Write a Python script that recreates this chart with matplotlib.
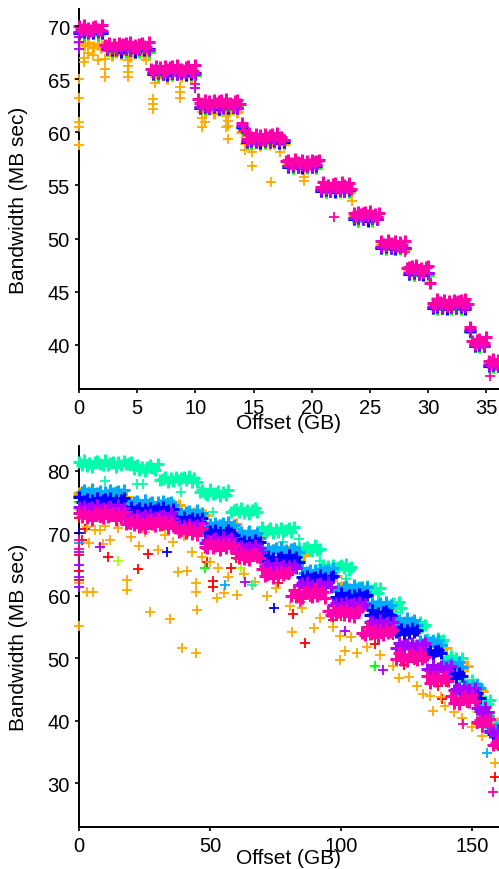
import numpy as np
import matplotlib
matplotlib.use("Agg")
import matplotlib.pyplot as plt

plt.rcParams['font.family'] = ['Liberation Sans', 'DejaVu Sans']

# rainbow palette (9 series)
C_RED = '#FF0000'
C_ORANGE = '#FFAA00'
C_YGREEN = '#AAFF00'
C_GREEN = '#00FF00'
C_SEAFOAM = '#00FFAA'
C_SKY = '#00AAFF'
C_BLUE = '#0000FF'
C_PURPLE = '#AA00FF'
C_PINK = '#FF00AA'

# ---------------- top panel data (offset in GB) ----------------
TOP_X_FINE = np.round(np.arange(0, 36.0001, 0.2), 1)
TOP_MAGENTA = [
    70.0, 69.7, 70.1, 69.6, 69.8, 69.5, 69.9, 70.0, 69.7, 69.6, 70.1,
    68.2, 68.1, 68.4, 67.9, 68.3, 68.0, 68.4, 68.2, 68.3, 68.4, 68.1, 68.5, 68.0, 68.2, 67.9, 68.3, 68.4, 68.1, 68.0, 68.5,
    66.0, 65.9, 66.2, 65.7, 66.1, 65.8, 66.2, 66.0, 66.1, 66.2, 65.9, 66.3, 65.8, 66.0, 65.7, 66.1, 66.2, 65.9, 65.8, 66.3,
    63.1, 62.8, 62.7, 63.0, 62.5, 62.9, 62.6, 63.0, 62.8, 62.9, 63.0, 62.7, 63.1, 62.6, 62.8, 62.5, 62.9, 63.0, 62.7,
    60.9, 60.2,
    59.4, 59.9, 59.6, 59.5, 59.8, 59.3, 59.7, 59.4, 59.8, 59.6, 59.7, 59.8, 59.5, 59.9, 59.4, 59.6, 59.3,
    57.3, 57.4, 57.1, 57.0, 57.5, 57.2, 57.1, 57.4, 56.9, 57.3, 57.0, 57.4, 57.2, 57.3, 57.4,
    54.9, 55.3, 54.8, 55.0, 54.7, 55.1, 55.2, 54.9, 54.8, 55.3, 55.0, 54.9, 55.2, 54.7,
    52.4, 52.1, 52.5, 52.3, 52.4, 52.5, 52.2, 52.6, 52.1, 52.3, 52.0, 52.4,
    49.8, 49.5, 49.4, 49.9, 49.6, 49.5, 49.8, 49.3, 49.7, 49.4, 49.8,
    47.2, 47.3, 47.4, 47.1, 47.5, 47.0, 47.2, 46.9, 47.3, 47.4,
    45.8,
    43.9, 43.8, 44.3, 44.0, 43.9, 44.2, 43.7, 44.1, 43.8, 44.2, 44.0, 44.1, 44.2, 43.9, 44.3, 43.8,
    41.7,
    40.4, 40.1, 40.5, 40.6, 40.3, 40.2, 40.7,
    38.5, 38.4, 38.7, 38.2, 38.6,
]

TOP_X_COARSE = np.round(np.arange(0, 36.0001, 0.4), 1)
TOP_PURPLE = [
    69.4, 69.5, 69.3, 69.6, 69.4, 69.5,
    67.8, 67.9, 67.7, 67.9, 67.8, 67.7, 67.9, 67.8, 67.9, 67.7,
    65.6, 65.7, 65.5, 65.7, 65.6, 65.5, 65.7, 65.6, 65.7, 65.5,
    62.4, 62.5, 62.3, 62.5, 62.4, 62.3, 62.5, 62.4, 62.3,
    60.6,
    59.2, 59.3, 59.1, 59.3, 59.2, 59.1, 59.3, 59.2, 59.3,
    56.8, 56.9, 56.7, 56.9, 56.8, 56.7, 56.9,
    54.6, 54.7, 54.5, 54.7, 54.6, 54.5, 54.7,
    51.9, 52.0, 51.8, 52.0, 51.9, 51.8,
    49.2, 49.3, 49.1, 49.3, 49.2, 49.1,
    46.8, 46.9, 46.7, 46.9, 46.8,
    43.6, 43.7, 43.5, 43.7, 43.6, 43.5, 43.7, 43.6,
    41.4,
    40.0, 40.1, 39.9,
    38.1, 38.2, 38.0,
]
TOP_BLUE = [
    69.3, 69.4, 69.4, 69.3, 69.5, 69.3,
    67.8, 67.7, 67.8, 67.6, 67.8, 67.7, 67.6, 67.8, 67.7, 67.8,
    65.5, 65.6, 65.5, 65.4, 65.6, 65.5, 65.6, 65.4, 65.5, 65.6,
    62.3, 62.4, 62.3, 62.4, 62.2, 62.4, 62.3, 62.4, 62.3,
    60.5,
    59.1, 59.2, 59.1, 59.0, 59.2, 59.1, 59.2, 59.0, 59.1,
    56.7, 56.8, 56.7, 56.6, 56.8, 56.7, 56.8,
    54.5, 54.6, 54.5, 54.4, 54.6, 54.5, 54.6,
    51.8, 51.9, 51.8, 51.7, 51.9, 51.8,
    49.1, 49.2, 49.1, 49.0, 49.2, 49.1,
    46.7, 46.8, 46.7, 46.6, 46.8,
    43.5, 43.6, 43.5, 43.4, 43.6, 43.5, 43.6, 43.4,
    41.3,
    39.9, 40.0, 39.9,
    38.0, 38.1, 38.0,
]
TOP_GREEN = [
    69.3, 69.2, 69.4, 69.3, 69.2, 69.3,
    67.7, 67.6, 67.7, 67.8, 67.6, 67.7, 67.8, 67.6, 67.7, 67.6,
    65.5, 65.4, 65.5, 65.6, 65.4, 65.5, 65.6, 65.4, 65.5, 65.4,
    62.3, 62.2, 62.3, 62.4, 62.2, 62.3, 62.2, 62.3, 62.4,
    60.4,
    59.1, 59.0, 59.1, 59.2, 59.0, 59.1, 59.2, 59.0, 59.1,
    56.7, 56.6, 56.7, 56.8, 56.6, 56.7, 56.6,
    54.5, 54.4, 54.5, 54.6, 54.4, 54.5, 54.4,
    51.8, 51.7, 51.8, 51.9, 51.7, 51.8,
    49.1, 49.0, 49.1, 49.2, 49.0, 49.1,
    46.7, 46.6, 46.7, 46.8, 46.6,
    43.5, 43.4, 43.5, 43.6, 43.4, 43.5, 43.4, 43.5,
    41.2,
    39.9, 39.8, 39.9,
    38.0, 37.9, 38.0,
]
TOP_ORANGE = [
    68.5, 68.2, 68.4, 68.0, 68.3, 68.1,
    67.7, 67.3, 67.6, 67.4, 67.8, 67.2, 67.5, 67.7, 67.3, 67.6,
    65.6, 65.2, 65.5, 65.1, 65.4, 65.7, 65.3, 65.5, 65.2, 65.6,
    62.3, 61.9, 62.2, 61.8, 62.1, 62.4, 62.0, 62.2, 61.9,
    60.0,
    59.3, 58.9, 59.2, 58.8, 59.1, 59.3, 59.0, 59.2, 58.9,
    57.0, 56.6, 56.9, 56.7, 56.8, 57.0, 56.6,
    54.8, 54.4, 54.7, 54.5, 54.6, 54.8, 54.4,
    52.1, 51.7, 52.0, 51.8, 51.9, 52.0,
    49.4, 49.0, 49.3, 49.1, 49.2, 49.0,
    47.0, 46.6, 46.9, 46.7, 46.8,
    43.8, 43.4, 43.7, 43.5, 43.6, 43.8, 43.4, 43.6,
    41.3,
    40.1, 39.9, 40.0,
    38.2, 37.9, 38.1,
]
TOP_ORANGE_OUT_X = [0.0, 0.0, 0.0, 0.0, 0.0, 0.4, 0.4, 0.8, 1.2, 1.6, 1.9, 2.2, 2.2, 2.2,
                    4.2, 4.2, 4.2, 4.2, 5.8, 5.8, 6.5, 6.5, 6.4, 6.4, 6.4, 8.7, 8.7, 8.7,
                    10.6, 10.6, 10.6, 10.8, 12.6, 12.6, 12.8, 12.8, 12.8, 12.8, 12.8,
                    14.3, 14.3, 14.9, 14.9, 16.4, 16.5, 17.3, 19.3, 19.3, 19.3, 23.5, 23.5]
TOP_ORANGE_OUT_Y = [65.0, 63.2, 61.0, 60.5, 58.8, 67.0, 66.6, 67.5, 67.3, 66.8, 67.8, 66.9, 66.0, 65.2,
                    66.8, 66.2, 65.7, 65.2, 67.4, 66.8, 65.2, 64.6, 63.1, 62.7, 62.2, 64.3, 63.8, 63.2,
                    61.9, 61.3, 60.5, 61.0, 61.5, 60.5, 62.3, 61.7, 61.1, 60.6, 59.4,
                    58.9, 58.3, 58.1, 56.8, 58.7, 55.3, 58.1, 56.3, 55.8, 55.4, 54.5, 53.5]
TOP_MAGENTA_OUT_X = [10.0, 21.9, 28.0, 35.3]
TOP_MAGENTA_OUT_Y = [64.5, 52.0, 48.7, 37.1]
TOP_PURPLE_OUT_X = [0.0, 0.0, 0.0, 10.0]
TOP_PURPLE_OUT_Y = [67.8, 68.5, 69.0, 64.2]

# ---------------- bottom panel data (offset in GB) ----------------
BOT_X = np.arange(0, 161, 1)
BOT_SEAFOAM = [
    81.5, 81.0, 81.7, 80.8, 81.3, 80.7, 81.4, 81.6, 81.1, 80.9, 81.8, 81.0, 81.2, 81.5, 80.7, 81.4, 80.9, 81.6, 81.1, 81.3, 81.5,
    80.3, 81.0, 80.1, 80.6, 80.0, 80.7, 80.9, 80.4, 80.2, 81.1,
    78.5, 78.7, 79.0, 78.2, 78.9, 78.4, 79.1, 78.6, 78.8, 79.0, 78.5, 79.2, 78.3, 78.8, 78.2,
    76.7, 76.9, 76.4, 76.2, 77.1, 76.3, 76.5, 76.8, 76.0, 76.7, 76.2, 76.9,
    73.5, 73.7, 73.9, 73.4, 74.1, 73.2, 73.7, 73.1, 73.8, 74.0, 73.5,
    70.2, 71.1, 70.3, 70.5, 70.8, 70.0, 70.7, 70.2, 70.9, 70.4, 70.6, 70.8, 70.3, 71.0,
    67.1, 67.6, 67.0, 67.7, 67.9, 67.4, 67.2, 68.1, 67.3, 67.5,
    64.9, 64.1, 64.8, 64.3, 65.0, 64.5, 64.7, 64.9, 64.4, 65.1, 64.2, 64.7,
    60.5, 61.2, 61.4, 60.9, 60.7, 61.6, 60.8, 61.0, 61.3, 60.5, 61.2,
    58.2, 58.9, 58.4, 58.6, 58.8, 58.3, 59.0, 58.1,
    55.4, 54.8, 55.5, 55.7, 55.2, 55.0, 55.9, 55.1, 55.3,
    53.1, 52.3, 53.0, 52.5, 53.2, 52.7, 52.9,
    50.2, 49.7, 50.4, 49.5, 50.0, 49.4, 50.1,
    46.3, 45.8, 45.6, 46.5, 45.7, 45.9,
    43.3, 42.5, 43.2, 42.7, 43.4,
    38.9, 39.1, 39.3,
]
BOT_SKY = [
    76.0, 76.7, 76.9, 76.4, 76.2, 77.1, 76.3, 76.5, 76.8, 76.0, 76.7, 76.2, 76.9, 76.4, 76.6, 76.8, 76.3, 77.0,
    74.4, 74.9, 74.3, 75.0, 75.2, 74.7, 74.5, 75.4, 74.6, 74.8, 75.1, 74.3, 75.0, 74.5, 75.2, 74.7, 74.9, 75.1, 74.6,
    73.7, 72.8, 73.3, 72.7, 73.4, 73.6, 73.1, 72.9, 73.8, 73.0, 73.2,
    71.6, 70.8, 71.5, 71.0, 71.7, 71.2, 71.4, 71.6, 71.1, 71.8, 70.9, 71.4,
    69.3, 70.0, 70.2, 69.7, 69.5, 70.4, 69.6, 69.8, 70.1, 69.3,
    67.5, 67.0, 67.7, 67.2, 67.4, 67.6, 67.1, 67.8, 66.9, 67.4, 66.8, 67.5, 67.7, 67.2, 67.0,
    64.5, 63.7, 63.9, 64.2, 63.4, 64.1, 63.6, 64.3, 63.8, 64.0, 64.2, 63.7, 64.4,
    60.8, 61.3, 60.7, 61.4, 61.6, 61.1, 60.9, 61.8, 61.0, 61.2, 61.5, 60.7, 61.4,
    58.2, 58.9, 58.4, 58.6, 58.8, 58.3, 59.0, 58.1, 58.6,
    55.3, 56.0, 56.2, 55.7, 55.5, 56.4, 55.6, 55.8, 56.1, 55.3,
    52.7, 52.2, 52.9, 52.4, 52.6, 52.8, 52.3, 53.0, 52.1,
    48.9, 48.3, 49.0, 49.2, 48.7, 48.5, 49.4, 48.6,
    45.3, 45.6, 44.8, 45.5, 45.0, 45.7, 45.2,
    41.1, 41.3, 40.8, 39.0, 38.4, 38.9, 38.0,
]
BOT_BLUE = [
    75.8, 75.0, 75.2, 75.5, 74.7, 75.4, 74.9, 75.6, 75.1, 75.3, 75.5, 75.0, 75.7, 74.8, 75.3, 74.7, 75.4, 75.6,
    73.6, 73.4, 74.3, 73.5, 73.7, 74.0, 73.2, 73.9, 73.4, 74.1, 73.6, 73.8, 74.0, 73.5, 74.2, 73.3, 73.8, 73.2, 73.9,
    72.5, 72.0, 71.8, 72.7, 71.9, 72.1, 72.4, 71.6, 72.3, 71.8, 72.5,
    70.0, 70.2, 70.4, 69.9, 70.6, 69.7, 70.2, 69.6, 70.3, 70.5, 70.0, 69.8,
    69.1, 68.3, 68.5, 68.8, 68.0, 68.7, 68.2, 68.9, 68.4, 68.6,
    66.2, 65.7, 66.4, 65.5, 66.0, 65.4, 66.1, 66.3, 65.8, 65.6, 66.5, 65.7, 65.9, 66.2, 65.4,
    63.0, 62.5, 63.2, 62.7, 62.9, 63.1, 62.6, 63.3, 62.4, 62.9, 62.3, 63.0, 63.2,
    59.8, 59.6, 60.5, 59.7, 59.9, 60.2, 59.4, 60.1, 59.6, 60.3, 59.8, 60.0, 60.2,
    57.0, 57.7, 56.8, 57.3, 56.7, 57.4, 57.6, 57.1, 56.9,
    55.0, 54.2, 54.4, 54.7, 53.9, 54.6, 54.1, 54.8, 54.3, 54.5,
    51.3, 50.8, 51.5, 50.6, 51.1, 50.5, 51.2, 51.4, 50.9,
    47.1, 48.0, 47.2, 47.4, 47.7, 46.9, 47.6, 47.1,
    44.4, 43.9, 44.1, 44.3, 43.8, 44.5, 43.6,
    41.3, 40.7, 41.4, 38.4, 37.9, 37.7, 38.6,
]
BOT_PURPLE = [
    74.2, 73.7, 74.4, 73.9, 74.1, 74.3, 73.8, 74.5, 73.6, 74.1, 73.5, 74.2, 74.4, 73.9, 73.7, 74.6, 73.8, 74.0,
    72.9, 72.1, 72.8, 72.3, 73.0, 72.5, 72.7, 72.9, 72.4, 73.1, 72.2, 72.7, 72.1, 72.8, 73.0, 72.5, 72.3, 73.2, 72.4,
    71.1, 71.4, 70.6, 71.3, 70.8, 71.5, 71.0, 71.2, 71.4, 70.9, 71.6,
    68.5, 69.0, 68.4, 69.1, 69.3, 68.8, 68.6, 69.5, 68.7, 68.9, 69.2, 68.4,
    67.8, 67.3, 68.0, 67.5, 67.7, 67.9, 67.4, 68.1, 67.2, 67.7, 67.1,
    64.8, 65.0, 64.5, 64.3, 65.2, 64.4, 64.6, 64.9, 64.1, 64.8, 64.3, 65.0, 64.5,
    61.8, 62.0, 61.5, 62.2, 61.3, 61.8, 61.2, 61.9, 62.1, 61.6, 61.4, 62.3, 61.5,
    58.6, 58.9, 58.1, 58.8, 58.3, 59.0, 58.5, 58.7, 58.9, 58.4, 59.1, 58.2, 58.7,
    55.1, 55.8, 56.0, 55.5, 55.3, 56.2, 55.4, 55.6, 55.9, 55.1, 55.8,
    51.7, 52.4, 51.9, 52.1, 52.3, 51.8, 52.5, 51.6, 52.1, 51.5, 52.2, 52.4,
    48.3, 48.1, 49.0, 48.2, 48.4, 48.7, 47.9, 48.6, 48.1, 48.8,
    44.9, 45.1, 45.3, 44.8, 45.5, 44.6, 45.1, 44.5, 45.2,
    42.0, 41.5, 41.3, 42.2, 41.4,
    38.2, 38.5, 37.7, 38.4,
]
BOT_PINK = [
    73.3, 72.6, 73.5, 72.4, 73.0, 72.2, 73.2, 73.4, 72.8, 72.5, 73.7, 72.6, 72.9, 73.3, 72.2, 73.2, 72.5, 73.4,
    71.5, 71.7, 72.0, 71.3, 72.2, 71.1, 71.7, 70.9, 71.9, 72.1, 71.5, 71.2, 72.4, 71.3, 71.6, 72.0, 70.9, 71.9, 71.2,
    70.9, 70.3, 70.5, 70.8, 70.1, 71.0, 69.9, 70.5, 69.7, 70.7, 70.9,
    67.9, 67.6, 68.8, 67.7, 68.0, 68.4, 67.3, 68.3, 67.6, 68.5, 67.9, 68.1,
    66.8, 66.1, 67.0, 65.9, 66.5, 65.7, 66.7, 66.9, 66.3, 66.0,
    64.3, 63.2, 63.5, 63.9, 62.8, 63.8, 63.1, 64.0, 63.4, 63.6, 63.9,
    60.0, 60.9, 59.8, 60.4, 59.6, 60.6, 60.8, 60.2, 59.9, 61.1, 60.0, 60.3, 60.7, 59.6,
    57.6, 56.9, 57.8, 57.2, 57.4, 57.7, 57.0, 57.9, 56.8, 57.4, 56.6, 57.6, 57.8,
    54.1, 53.8, 55.0, 53.9, 54.2, 54.6, 53.5, 54.5, 53.8, 54.7, 54.1, 54.3, 54.6,
    49.9, 50.8, 49.7, 50.3, 49.5, 50.5, 50.7, 50.1, 49.8, 51.0, 49.9, 50.2,
    47.1, 46.0, 47.0, 46.3, 47.2, 46.6, 46.8, 47.1, 46.4,
    44.0, 42.9, 43.5, 42.7, 43.7, 43.9, 43.3, 43.0, 44.2, 43.1,
    39.8, 40.2, 39.1, 40.1, 39.4, 40.3,
    36.2, 36.4, 36.7,
]
BOT_X2 = np.arange(0, 161, 2)
BOT_ORANGE = [
    76.4, 75.9, 76.6, 75.7, 76.2, 75.6, 76.3, 76.5, 76.0, 75.8,
    75.0, 74.2, 74.4, 74.7, 73.9, 74.6, 74.1, 74.8, 74.3, 74.5,
    73.1, 72.6, 73.3, 72.4, 72.9,
    70.4, 71.1, 71.3, 70.8, 70.6, 71.5,
    69.2, 69.4, 69.7, 68.9, 69.6,
    66.6, 67.3, 66.8, 67.0, 67.2, 66.7, 67.4, 66.5,
    63.6, 63.0, 63.7, 63.9, 63.4, 63.2,
    61.4, 60.6, 60.8, 61.1, 60.3, 61.0, 60.5,
    58.5, 58.0, 58.2, 58.4,
    55.2, 55.9, 55.0, 55.5, 54.9,
    52.3, 52.5, 52.0, 52.7, 51.7,
    48.4, 48.7, 48.1, 48.8,
    44.8, 45.2, 44.7,
    39.2, 39.9, 39.6,
]
BOT_X4 = np.arange(0, 161, 4)
BOT_RED = [72.4, 72.8, 72.5, 72.7, 72.3, 71.4, 71.1, 71.5, 71.2, 71.3, 70.0, 70.3, 67.6, 67.9,
           67.5, 66.1, 66.0, 66.3, 63.2, 63.0, 63.4, 60.0, 59.8, 60.1, 57.0, 56.8, 57.1, 53.9,
           53.7, 54.0, 53.8, 49.9, 49.7, 50.0, 46.4, 46.2, 43.1, 42.9, 39.5, 39.3, 36.0]
BOT_YGREEN = [73.7, 74.0, 73.8, 73.9, 73.6, 72.5, 72.3, 72.6, 72.2, 72.4, 70.9, 71.0, 68.6, 68.8,
              68.5, 67.4, 67.3, 67.5, 64.4, 64.3, 64.5, 61.5, 61.3, 61.6, 61.4, 58.4, 58.3, 58.5,
              55.4, 55.3, 55.5, 51.8, 51.7, 51.9, 48.2, 48.1, 44.8, 44.7, 41.4, 41.3, 38.0]
BOT_GREEN = [75.0, 75.2, 74.9, 75.1, 75.0, 73.6, 73.5, 73.7, 73.4, 73.6, 72.0, 71.9, 70.0, 69.9,
             70.1, 68.4, 68.3, 68.5, 65.8, 65.7, 65.9, 65.6, 62.7, 62.6, 62.8, 59.8, 59.7, 59.9,
             57.1, 57.0, 54.3, 54.2, 54.4, 50.9, 50.8, 47.3, 47.2, 43.9, 43.8, 41.1, 37.9]

BOT_ORANGE_OUT_X = [0, 0, 2.9, 5.5, 18.2, 18.2, 27.1, 34.7, 37.9, 39.2, 41.1, 44.5, 44.9, 44.5, 44.5,
                    52.5, 55.5, 60.2, 71.6, 80.5, 81.3, 89.6, 99.5, 99.6, 101.5, 106.2, 122.2,
                    131.4, 135.2, 139.7, 143.2, 158.8,
                    3, 6, 10, 4, 9, 8, 12, 15, 20, 23, 25, 30, 33, 36, 40, 43, 47, 50, 53, 57,
                    63, 67, 75, 85, 92, 97, 104, 110, 115, 120, 126, 129, 134, 138, 146, 150, 154]
BOT_ORANGE_OUT_Y = [55.2, 62.0, 60.6, 60.6, 62.5, 61.0, 57.4, 56.3, 63.9, 51.6, 64.0, 50.8, 57.7, 60.7, 62.0,
                    59.6, 60.4, 60.1, 60.0, 58.4, 54.2, 54.8, 49.7, 53.6, 51.2, 50.9, 46.9,
                    44.3, 41.5, 42.4, 41.4, 33.3,
                    71.0, 70.6, 71.2, 68.5, 68.3, 70.5, 69.0, 70.8, 69.5, 68.0, 70.2, 67.3, 69.8, 68.7, 69.6, 67.0,
                    66.3, 65.5, 64.5, 63.0, 63.5, 62.3, 61.2, 58.0, 56.5, 55.0, 53.5, 51.8, 50.5, 48.8,
                    47.0, 45.5, 44.0, 43.8, 40.5, 39.0, 37.5]
BOT_RED_OUT_X = [0, 0, 0, 1, 2.3, 11.2, 22.6, 26.4, 49, 51.3, 51.3, 58, 76, 81.8, 86.3, 97, 113,
                 124, 137, 138.4, 158.8]
BOT_RED_OUT_Y = [66.5, 64.0, 62.5, 69.0, 70.7, 66.2, 64.3, 66.7, 65.5, 62.4, 61.4, 64.5, 62.0, 57.1,
                 52.4, 56.2, 52.3, 49.0, 45.5, 43.5, 31.0]
BOT_GREEN_OUT_X = [48, 113]
BOT_GREEN_OUT_Y = [64.5, 48.7]
BOT_YGREEN_OUT_X = [15, 62]
BOT_YGREEN_OUT_Y = [65.6, 64.4]
BOT_SEAFOAM_OUT_X = [10, 22, 24.4, 39, 51, 64.5, 65.9, 78, 84, 92, 102, 121, 138]
BOT_SEAFOAM_OUT_Y = [78.4, 77.9, 77.9, 76.6, 73.4, 70.2, 61.7, 68.6, 69.1, 65.6, 62.7, 57.4, 51.4]
BOT_SKY_OUT_X = [0, 55.7, 155.8]
BOT_SKY_OUT_Y = [68.5, 61.8, 34.9]
BOT_BLUE_OUT_X = [0, 33.5, 74.4]
BOT_BLUE_OUT_Y = [70.0, 67.0, 58.1]
BOT_PURPLE_OUT_X = [0, 0, 0, 0, 8, 63.4, 101.5, 115.9]
BOT_PURPLE_OUT_Y = [61.5, 63.0, 65.0, 67.0, 67.8, 62.2, 54.4, 48.2]
BOT_PINK_OUT_X = [0, 0, 84.4, 146.4, 157.9]
BOT_PINK_OUT_Y = [69.0, 67.5, 59.0, 39.5, 28.6]

# ---------------- drawing ----------------
DENSE = dict(s=72, linewidths=2.2)    # densely overplotted runs
SPARSE = dict(s=55, linewidths=1.3)   # isolated points


def pts(ax, x, y, color, style):
    ax.scatter(x, y, marker='+', color=color, clip_on=False, **style)


W, H = 499, 870
fig = plt.figure(figsize=(W / 100, H / 100), dpi=100)
ax1 = fig.add_axes([79 / W, 1 - 390 / H, 420 / W, 380 / H])
ax2 = fig.add_axes([79 / W, 1 - 828 / H, 420 / W, 381 / H])

# top panel
pts(ax1, TOP_X_COARSE, TOP_ORANGE, C_ORANGE, DENSE)
pts(ax1, TOP_ORANGE_OUT_X, TOP_ORANGE_OUT_Y, C_ORANGE, SPARSE)
pts(ax1, TOP_X_COARSE, TOP_GREEN, C_GREEN, DENSE)
pts(ax1, TOP_X_COARSE, TOP_BLUE, C_BLUE, DENSE)
pts(ax1, TOP_X_COARSE, TOP_PURPLE, C_PURPLE, DENSE)
pts(ax1, TOP_PURPLE_OUT_X, TOP_PURPLE_OUT_Y, C_PURPLE, SPARSE)
pts(ax1, TOP_X_FINE, TOP_MAGENTA, C_PINK, DENSE)
pts(ax1, TOP_MAGENTA_OUT_X, TOP_MAGENTA_OUT_Y, C_PINK, SPARSE)

# bottom panel
pts(ax2, BOT_X4, BOT_RED, C_RED, SPARSE)
pts(ax2, BOT_RED_OUT_X, BOT_RED_OUT_Y, C_RED, SPARSE)
pts(ax2, BOT_X2, BOT_ORANGE, C_ORANGE, DENSE)
pts(ax2, BOT_ORANGE_OUT_X, BOT_ORANGE_OUT_Y, C_ORANGE, SPARSE)
pts(ax2, BOT_X4, BOT_YGREEN, C_YGREEN, SPARSE)
pts(ax2, BOT_YGREEN_OUT_X, BOT_YGREEN_OUT_Y, C_YGREEN, SPARSE)
pts(ax2, BOT_X4, BOT_GREEN, C_GREEN, SPARSE)
pts(ax2, BOT_GREEN_OUT_X, BOT_GREEN_OUT_Y, C_GREEN, SPARSE)
pts(ax2, BOT_X, BOT_SEAFOAM, C_SEAFOAM, DENSE)
pts(ax2, BOT_SEAFOAM_OUT_X, BOT_SEAFOAM_OUT_Y, C_SEAFOAM, SPARSE)
pts(ax2, BOT_X, BOT_SKY, C_SKY, DENSE)
pts(ax2, BOT_SKY_OUT_X, BOT_SKY_OUT_Y, C_SKY, SPARSE)
pts(ax2, BOT_X, BOT_BLUE, C_BLUE, DENSE)
pts(ax2, BOT_BLUE_OUT_X, BOT_BLUE_OUT_Y, C_BLUE, SPARSE)
pts(ax2, BOT_X, BOT_PURPLE, C_PURPLE, DENSE)
pts(ax2, BOT_PURPLE_OUT_X, BOT_PURPLE_OUT_Y, C_PURPLE, SPARSE)
pts(ax2, BOT_X, BOT_PINK, C_PINK, DENSE)
pts(ax2, BOT_PINK_OUT_X, BOT_PINK_OUT_Y, C_PINK, SPARSE)

ax1.set_xlim(0, 36.1)
ax1.set_ylim(35.85, 71.6)
ax1.set_xticks([0, 5, 10, 15, 20, 25, 30, 35])
ax1.set_yticks([40, 45, 50, 55, 60, 65, 70])
ax2.set_xlim(0, 160.3)
ax2.set_ylim(23.0, 84.0)
ax2.set_xticks([0, 50, 100, 150])
ax2.set_yticks([30, 40, 50, 60, 70, 80])

for ax, xlab_y in ((ax1, -0.064), (ax2, -0.056)):
    ax.spines['top'].set_visible(False)
    ax.spines['right'].set_visible(False)
    for s in ('left', 'bottom'):
        ax.spines[s].set_linewidth(1.4)
        ax.spines[s].set_zorder(0.5)
    ax.tick_params(direction='out', length=3, width=1.2, labelsize=14.5, pad=3.5, colors='black')
    ax.set_xlabel('Offset (GB)', fontsize=15)
    ax.set_ylabel('Bandwidth (MB sec)', fontsize=15)
    ax.xaxis.set_label_coords(0.5, xlab_y)
    ax.yaxis.set_label_coords(-0.121, 0.5)
    ax.patch.set_alpha(0)

fig.savefig('out.png', dpi=100)
